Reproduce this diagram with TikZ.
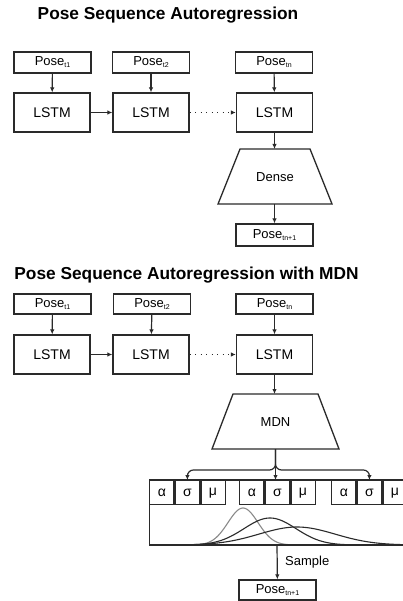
\documentclass[tikz,border=0pt]{standalone}
\usepackage{fontspec}
\setmainfont{Liberation Sans}
\usetikzlibrary{arrows.meta}
\definecolor{ink}{HTML}{2A2A2A}
\definecolor{curvelight}{HTML}{8A8A8A}
\newcommand{\sub}[1]{\raisebox{-2pt}{\fontsize{7}{8}\selectfont #1}}
\begin{document}
\begin{tikzpicture}[x=1pt,y=-1pt,
  every node/.style={text=black},
  box/.style={draw=ink,line width=1.3pt,fill=white,inner sep=0pt,align=center},
  posebox/.style={box,minimum width=77pt,minimum height=21pt,font=\fontsize{13}{15}\selectfont},
  lstmbox/.style={box,minimum width=76pt,minimum height=39pt,font=\fontsize{14}{16}\selectfont},
  parbox/.style={box,minimum width=24.3pt,minimum height=24pt,font=\fontsize{14}{16}\selectfont},
  heading/.style={font=\fontsize{17.3}{20}\selectfont\bfseries,inner sep=0pt},
  arr/.style={draw=ink,line width=1.2pt,-{Latex[length=5pt,width=4.5pt]}},
  dotarr/.style={arr,dash pattern=on 1.3pt off 4.2pt},
  shapeline/.style={draw=ink,line width=1.3pt},
  gauss/.style={draw=ink,line width=1.1pt}]
\clip (0,0) rectangle (403,601);
\fill[white] (0,0) rectangle (403,601);

% ---------- Plain autoregression ----------
\node[heading] (t1) at (168,15) {Pose Sequence Autoregression};

\node[posebox] (a1) at (52.5,62.5) {Pose\sub{t1}};
\node[posebox] (a2) at (151,62.5) {Pose\sub{t2}};
\node[posebox] (an) at (274,62.5) {Pose\sub{tn}};

\node[lstmbox] (la1) at (52,112.5) {LSTM};
\node[lstmbox] (la2) at (151,112.5) {LSTM};
\node[lstmbox] (lan) at (274.5,112.5) {LSTM};

\draw[arr] (a1) -- (la1);
\draw[arr] (a2) -- (la2);
\draw[arr] (an) -- (lan);
\draw[arr] (la1) -- (la2);
\draw[dotarr] (la2) -- (lan);

% dense layer drawn as a trapezium
\draw[shapeline,line join=miter] (240,149) -- (310,149) -- (332,204) -- (218,204) -- cycle;
\coordinate (dtop) at (274.5,149);
\coordinate (dbot) at (274.5,204);
\node[font=\fontsize{13}{15}\selectfont] (dense) at (275,177) {Dense};

\node[posebox,minimum height=22pt] (aout) at (274.5,235) {Pose\sub{tn+1}};

\draw[arr] (lan) -- (dtop);
\draw[arr] (dbot) -- (aout);

% ---------- Autoregression with MDN ----------
\node[heading] (t2) at (186.5,275) {Pose Sequence Autoregression with MDN};

\node[posebox,minimum height=20pt] (b1) at (52.5,304) {Pose\sub{t1}};
\node[posebox,minimum height=20pt] (b2) at (152,304) {Pose\sub{t2}};
\node[posebox,minimum height=20pt] (bn) at (274.5,304) {Pose\sub{tn}};

\node[lstmbox] (lb1) at (52,354.5) {LSTM};
\node[lstmbox] (lb2) at (151,354.5) {LSTM};
\node[lstmbox] (lbn) at (274.5,354.5) {LSTM};

\draw[arr] (b1) -- (lb1);
\draw[arr] (b2) -- (lb2);
\draw[arr] (bn) -- (lbn);
\draw[arr] (lb1) -- (lb2);
\draw[dotarr] (lb2) -- (lbn);

% MDN trapezium
\draw[shapeline,line join=miter] (233,394) -- (318,394) -- (339,449) -- (212,449) -- cycle;
\coordinate (mtop) at (274.5,394);
\coordinate (mbot) at (275.5,449);
\node[font=\fontsize{13}{15}\selectfont] (mdn) at (275.5,422) {MDN};
\draw[arr] (lbn) -- (mtop);

% mixture panel: outer frame with the distributions
\draw[draw=ink,line width=1.1pt,fill=white] (149.5,480) rectangle (410,545);

% parameter triples
\foreach \g/\x in {1/149,2/239,3/331}{
  \node[parbox,anchor=north west] (al\g) at (\x,480) {α};
  \node[parbox,anchor=north west] (si\g) at (al\g.north east) {σ};
  \node[parbox,anchor=north west] (mu\g) at (si\g.north east) {μ};
}

% branching connector
\draw[arr,rounded corners=6pt] (mbot) |- (si1.north |- 0,470) -- (si1.north);
\draw[arr,rounded corners=6pt] (mbot) |- (si3.north |- 0,470) -- (si3.north);
\draw[arr] (mbot) -- (si2.north -| mbot);

% mixture components
\draw[gauss,draw=curvelight,domain=183:303,samples=120] plot (\x,{545-37*exp(-0.5*((\x-243)/15)^2)});
\draw[gauss,domain=166:374,samples=140] plot (\x,{545-27*exp(-0.5*((\x-270)/26)^2)});
\draw[gauss,domain=150:410,samples=160] plot (\x,{545-18*exp(-0.5*((\x-297)/38)^2)});
\draw[draw=ink,line width=1.3pt] (149.5,504) -- (149.5,545) -- (410,545);

\coordinate (smp) at (277,545);
\node[posebox,minimum height=20pt] (bout) at (277.5,590) {Pose\sub{tn+1}};
\draw[arr] (smp) -- (bout);
\node[anchor=west,inner sep=0pt,font=\fontsize{13}{15}\selectfont] (smplabel) at (285,562) {Sample};
\end{tikzpicture}
\end{document}
